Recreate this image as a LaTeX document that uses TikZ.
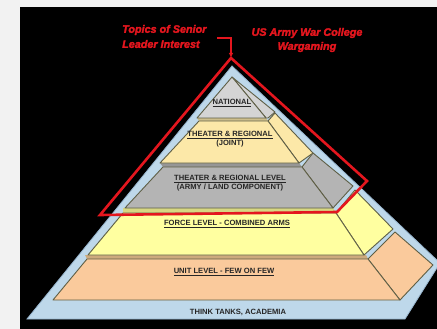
\documentclass[tikz,border=0pt]{standalone}
\usepackage{fontspec}
\setmainfont{Liberation Sans}
\usetikzlibrary{arrows.meta}
\definecolor{bgGray}{RGB}{242,242,242}
\definecolor{redL}{RGB}{228,22,30}
\definecolor{blueL}{RGB}{190,216,234}
\definecolor{blueE}{RGB}{150,180,205}
\definecolor{grayN}{RGB}{212,212,212}
\definecolor{grayA}{RGB}{180,180,180}
\definecolor{yelJ}{RGB}{252,232,168}
\definecolor{yelF}{RGB}{255,255,160}
\definecolor{peach}{RGB}{250,202,156}
\definecolor{edgeC}{RGB}{95,95,70}
\definecolor{topJ}{RGB}{205,190,140}
\definecolor{topA}{RGB}{150,150,150}
\definecolor{topF}{RGB}{215,215,130}
\definecolor{topU}{RGB}{205,170,125}
\begin{document}
\begin{tikzpicture}[x=1pt,y=-1pt,
  face/.style={draw=edgeC,line width=0.9pt,line join=round},
  lbl/.style={font=\fontsize{7.6}{8.4}\selectfont\bfseries,text=black!85,align=center,inner sep=0pt},
  redtxt/.style={font=\fontsize{10.8}{13}\selectfont\bfseries\itshape\addfontfeature{FakeBold=2.5},text=redL,inner sep=0pt}]
\useasboundingbox (0,0) rectangle (437,329);
\fill[bgGray] (0,0) rectangle (437,329);
\fill[black] (20,7) rectangle (437,329);
% blue base pyramid
\filldraw[fill=blueL,draw=blueE,line width=0.8pt] (232,66) -- (440,263) -- (405,319) -- (27,319) -- cycle;
% unit level
\fill[topU] (85,255) -- (366,255) -- (368,259) -- (87,259) -- cycle;
\filldraw[face,fill=peach] (368,259) -- (395,232) -- (433,265) -- (400,300) -- cycle;
\filldraw[face,fill=peach] (87,259) -- (368,259) -- (400,300) -- (53,300) -- cycle;
% force level
\fill[topF] (123,208) -- (333,208) -- (336,213) -- (123,213) -- cycle;
\filldraw[face,fill=yelF] (336,213) -- (355,190) -- (393,229) -- (364,255) -- cycle;
\filldraw[face,fill=yelF] (123,213) -- (336,213) -- (364,255) -- (88,255) -- cycle;
% army level
\fill[topA] (160,163) -- (299,163) -- (302,167) -- (163,167) -- cycle;
\filldraw[face,fill=grayA] (302,167) -- (313,153) -- (353,186) -- (333,208) -- cycle;
\filldraw[face,fill=grayA] (163,167) -- (302,167) -- (333,208) -- (125,208) -- cycle;
% joint level
\fill[topJ] (197,118) -- (266,118) -- (268,121) -- (199,121) -- cycle;
\filldraw[face,fill=yelJ] (268,121) -- (275,113) -- (313,153) -- (299,163) -- cycle;
\filldraw[face,fill=yelJ] (199,121) -- (268,121) -- (299,163) -- (160,163) -- cycle;
% national
\filldraw[face,fill=grayN] (232,77) -- (275,112) -- (268,118) -- (266,118) -- cycle;
\filldraw[face,fill=grayN] (232,77) -- (266,118) -- (197,118) -- cycle;
% labels
\node[lbl] (nat) at (232,103) {\underline{NATIONAL}};
\node[lbl] (joint) at (230,139) {\underline{THEATER \& REGIONAL}\\(JOINT)};
\node[lbl] (army) at (230,183) {\underline{THEATER \& REGIONAL LEVEL}\\(ARMY / LAND COMPONENT)};
\node[lbl] (force) at (227,224) {\underline{FORCE LEVEL - COMBINED ARMS}};
\node[lbl] (unit) at (224,272) {\underline{UNIT LEVEL - FEW ON FEW}};
\node[lbl] (think) at (238,312) {THINK TANKS, ACADEMIA};
% red outline
\coordinate (rapex) at (231,58);
\coordinate (rright) at (367,181);
\coordinate (rbr) at (337,212);
\coordinate (rbl) at (100,215);
\draw[redL,line width=2.6pt,line join=miter] (rapex) -- (rright) -- (rbr) -- (rbl) -- cycle;
% red texts
\node[redtxt,anchor=west] (topics) at (122,30) {Topics of Senior};
\node[redtxt,anchor=west] (leader) at (122,44) {Leader Interest};
\node[redtxt] (usawc) at (307,33) {US Army War College};
\node[redtxt] (wg) at (307,47) {Wargaming};
\coordinate (arrs) at (217,38);
\coordinate (arre) at (231,57);
\draw[redL,line width=1.3pt,-{Triangle[length=4pt,width=4pt]}] (arrs) -| (arre);
\end{tikzpicture}
\end{document}
